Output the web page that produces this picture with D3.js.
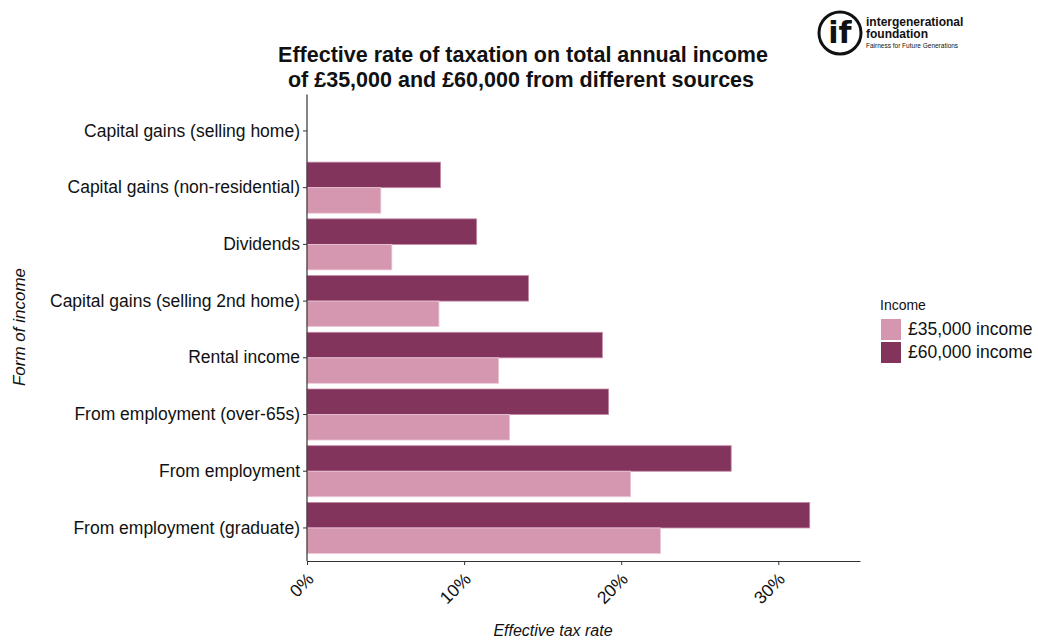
<!DOCTYPE html>
<head>
    <title>Effective rate of taxation</title>
    <script src="https://cdn.jsdelivr.net/npm/d3@7"></script>
    <style>
      body { margin: 0; background: #fff; font-family: "Liberation Sans", Arial, sans-serif; }
    </style>
</head>
<body>
<div id="container"></div>

<script>

// Données (en %)
const categories = [
  "Capital gains (selling home)",
  "Capital gains (non-residential)",
  "Dividends",
  "Capital gains (selling 2nd home)",
  "Rental income",
  "From employment (over-65s)",
  "From employment",
  "From employment (graduate)"
];
const income35k = [0, 4.7, 5.4, 8.4, 12.2, 12.9, 20.6, 22.5];
const income60k = [0, 8.5, 10.8, 14.1, 18.8, 19.2, 27.0, 32.0];
const seriesNames = ["£35,000 income", "£60,000 income"];
const seriesColors = ["#d596b0", "#82345c"];
const xTicks = [0, 10, 20, 30];

const W = 1038, H = 641;
const marginLeft = 307, marginTop = 102.6, plotRight = 860, plotBottom = 561;

const svg = d3.select("#container")
  .append("svg")
  .attr("width", W)
  .attr("height", H);

const x = d3.scaleLinear()
  .domain([0, 35.2])
  .range([marginLeft, plotRight]);

const y = d3.scaleBand()
  .domain(categories)
  .range([marginTop, 556.3])
  .paddingInner(0.1)
  .paddingOuter(0.05);

// Sous-échelle pour les deux séries (60k en haut)
const ySub = d3.scaleBand()
  .domain(["60k", "35k"])
  .range([0, y.bandwidth()]);

const rows = categories.map((c, i) => ({ cat: c, v35: income35k[i], v60: income60k[i] }));

const g = svg.append("g");
rows.forEach(d => {
  g.append("rect")
    .attr("x", x(0))
    .attr("y", y(d.cat) + ySub("60k"))
    .attr("width", x(d.v60) - x(0))
    .attr("height", ySub.bandwidth())
    .attr("fill", seriesColors[1])
    .attr("stroke", d.v60 > 0 ? "#c48aa6" : "none")
    .attr("stroke-width", 0.8);
  g.append("rect")
    .attr("x", x(0))
    .attr("y", y(d.cat) + ySub("35k"))
    .attr("width", x(d.v35) - x(0))
    .attr("height", ySub.bandwidth())
    .attr("fill", seriesColors[0])
    .attr("stroke", d.v35 > 0 ? "#ecc8d7" : "none")
    .attr("stroke-width", 0.8);
});

// Axe Y
const yAxis = svg.append("g")
  .attr("transform", `translate(${marginLeft},0)`)
  .call(d3.axisLeft(y).tickSize(4).tickPadding(3).tickSizeOuter(0));
yAxis.select(".domain").attr("stroke", "#333").attr("stroke-width", 1.2)
  .attr("d", `M0,${marginTop - 8}V${plotBottom}`);
yAxis.selectAll(".tick line").attr("stroke", "#333");
yAxis.selectAll("text")
  .attr("fill", "#111")
  .style("font-size", "17.5px")
  .style("font-family", "Liberation Sans, Arial, sans-serif");

// Axe X
const xAxis = svg.append("g")
  .attr("transform", `translate(0,${plotBottom})`)
  .call(d3.axisBottom(x).tickValues(xTicks).tickFormat(d => d + "%").tickSize(4).tickSizeOuter(0));
xAxis.select(".domain").attr("stroke", "#333").attr("stroke-width", 1.2);
xAxis.selectAll(".tick line").attr("stroke", "#333");
xAxis.selectAll("text")
  .attr("fill", "#111")
  .style("font-size", "17.5px")
  .style("font-family", "Liberation Sans, Arial, sans-serif")
  .attr("text-anchor", "end")
  .attr("dy", "0.35em")
  .attr("transform", "translate(-2,10) rotate(-45)");

// Titre
const title = svg.append("text")
  .attr("text-anchor", "middle")
  .style("font-weight", "bold")
  .style("font-size", "21.5px")
  .attr("fill", "#111");
title.append("tspan").attr("x", 523).attr("y", 62).text("Effective rate of taxation on total annual income");
title.append("tspan").attr("x", 521).attr("y", 87).text("of £35,000 and £60,000 from different sources");

// Titres d'axes
svg.append("text")
  .attr("x", 553).attr("y", 636)
  .attr("text-anchor", "middle")
  .style("font-style", "italic")
  .style("font-size", "16px")
  .attr("fill", "#111")
  .text("Effective tax rate");

svg.append("text")
  .attr("transform", "translate(25,327) rotate(-90)")
  .attr("text-anchor", "middle")
  .style("font-style", "italic")
  .style("font-size", "17px")
  .attr("fill", "#111")
  .text("Form of income");

// Légende
const leg = svg.append("g").attr("transform", "translate(880,297)");
leg.append("text").attr("x", 0).attr("y", 13)
  .style("font-size", "14px").attr("fill", "#111").text("Income");
seriesNames.forEach((s, i) => {
  leg.append("rect")
    .attr("x", 1).attr("y", 22 + i * 23)
    .attr("width", 20).attr("height", 21)
    .attr("fill", seriesColors[i]);
  leg.append("text")
    .attr("x", 28).attr("y", 38 + i * 23)
    .style("font-size", "17.5px").attr("fill", "#111")
    .text(s);
});

// Logo
const logo = svg.append("g").attr("transform", "translate(840,33)");
logo.append("circle").attr("r", 21).attr("fill", "none").attr("stroke", "#111").attr("stroke-width", 3);
logo.append("text").attr("x", 0).attr("y", 10).attr("text-anchor", "middle")
  .style("font-weight", "bold").style("font-size", "30px").style("font-family", "DejaVu Sans, sans-serif")
  .attr("fill", "#111").text("if");
logo.append("text").attr("x", 26).attr("y", -7)
  .style("font-weight", "bold").style("font-size", "12px").attr("fill", "#111").text("intergenerational");
logo.append("text").attr("x", 26).attr("y", 5)
  .style("font-weight", "bold").style("font-size", "12px").attr("fill", "#111").text("foundation");
logo.append("text").attr("x", 26).attr("y", 15)
  .style("font-size", "6.5px").attr("fill", "#111").text("Fairness for Future Generations");

</script>

</body>
